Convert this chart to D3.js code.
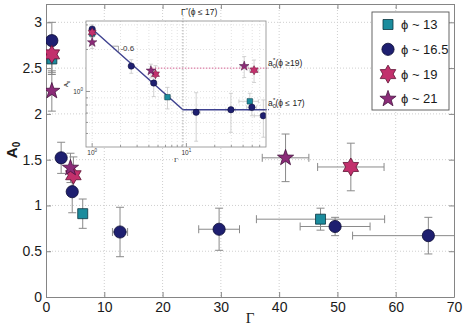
<!DOCTYPE html>
<html>
<head>
<meta charset="utf-8">
<script src="https://cdn.jsdelivr.net/npm/d3@7"></script>
<style>
  body { margin: 0; background: #fff; }
  svg { display: block; font-family: "Liberation Sans", Arial, sans-serif; }
</style>
</head>
<body>
<div id="chart"></div>
<script>
// phi ~ 13
const gamma13 = [1, 6.3, 47.1];
const amp13 = [2.6, 0.91, 0.85];
const errAmp13 = [0.17, 0.16, 0.12];
const errGamma13 = [0, 0.5, 11];
// phi ~ 16.5
const gamma165 = [1, 2.6, 4.5, 12.7, 29.7, 49.6, 65.6];
const amp165 = [2.8, 1.52, 1.15, 0.71, 0.74, 0.77, 0.67];
const errAmp165 = [0.2, 0.17, 0.23, 0.27, 0.23, 0.1, 0.2];
const errGamma165 = [0, 0, 0, 1.3, 3.5, 6, 13];
// phi ~ 19
const gamma19 = [1, 4.7, 52.3];
const amp19 = [2.65, 1.33, 1.42];
const errAmp19 = [0.2, 0.2, 0.26];
const errGamma19 = [0, 0, 5.7];
// phi ~ 21
const gamma21 = [1, 4.2, 41.1];
const amp21 = [2.25, 1.41, 1.52];
const errAmp21 = [0.22, 0.16, 0.26];
const errGamma21 = [0, 0, 4];

const seriesNames = ["ϕ ~ 13", "ϕ ~ 16.5", "ϕ ~ 19", "ϕ ~ 21"];

// inset fit: power law (slope -0.6) then plateau
const fitGamma = [1, 9.2, 70];
const fitAmp = [2.8, 0.74, 0.74];
const gammaStar = 9.2;
const ampStarHigh = 1.47;
const ampStarLow = 0.74;
const slopeLabel = "-0.6";

const xTicks = [0, 10, 20, 30, 40, 50, 60, 70];
const yTicks = [0, 0.5, 1, 1.5, 2, 2.5, 3];

const W = 463, H = 329;
const svg = d3.select("#chart").append("svg").attr("width", W).attr("height", H);

const x = d3.scaleLinear().domain([0, 70]).range([46, 454]);
const y = d3.scaleLinear().domain([0, 3.2]).range([297, 4]);

const axisColor = "#858585";

// symbol helpers
function starPath(n, rOut, rIn) {
    const pts = d3.range(2 * n).map(i => {
        const a = Math.PI * i / n - Math.PI / 2;
        const r = i % 2 ? rIn : rOut;
        return [r * Math.cos(a), r * Math.sin(a)];
    });
    return "M" + pts.map(p => p[0].toFixed(2) + "," + p[1].toFixed(2)).join("L") + "Z";
}
function shapePath(shape, s) {
    if (shape === "square") return d3.symbol(d3.symbolSquare, s * s)();
    if (shape === "circle") return d3.symbol(d3.symbolCircle, Math.PI * s * s)();
    if (shape === "hexagram") return starPath(6, s, s / Math.sqrt(3));
    return starPath(5, s, s * 0.4);
}

const series = [
    {name: seriesNames[0], g: gamma13, a: amp13, ea: errAmp13, eg: errGamma13, shape: "square", fill: "#1b8c9d", stroke: "#0b3540", big: 10, small: 5.5},
    {name: seriesNames[1], g: gamma165, a: amp165, ea: errAmp165, eg: errGamma165, shape: "circle", fill: "#1e1f70", stroke: "#0a0a33", big: 6.1, small: 3.2},
    {name: seriesNames[2], g: gamma19, a: amp19, ea: errAmp19, eg: errGamma19, shape: "hexagram", fill: "#c2306c", stroke: "#5e1233", big: 9, small: 4.6},
    {name: seriesNames[3], g: gamma21, a: amp21, ea: errAmp21, eg: errGamma21, shape: "star", fill: "#8b2b78", stroke: "#44113d", big: 8.5, small: 5}
];
series.forEach(s => {
    s.points = s.g.map((g, i) => ({g: g, a: s.a[i], ea: s.ea[i], eg: s.eg[i]}));
});

// clip paths
const defs = svg.append("defs");
defs.append("clipPath").attr("id", "mainClip").append("rect")
    .attr("x", 46).attr("y", 4).attr("width", 408).attr("height", 293);

// grid
const grid = svg.append("g").attr("stroke", "#cfcfcf").attr("stroke-dasharray", "1,2");
grid.selectAll(".gx").data(xTicks.slice(1, -1)).join("line")
    .attr("x1", d => x(d)).attr("x2", d => x(d)).attr("y1", y(3.2)).attr("y2", y(0));
grid.selectAll(".gy").data(yTicks.slice(1)).join("line")
    .attr("y1", d => y(d)).attr("y2", d => y(d)).attr("x1", x(0)).attr("x2", x(70));

// axes (matlab style: box with inward ticks)
function styleAxis(g) {
    g.select(".domain").attr("stroke", axisColor);
    g.selectAll(".tick line").attr("stroke", axisColor);
    g.selectAll("text").attr("fill", "#1a1a1a").attr("font-size", 14);
}
svg.append("g").attr("transform", `translate(0,${y(0)})`)
    .call(d3.axisBottom(x).tickValues(xTicks).tickSizeInner(-5).tickSizeOuter(0).tickPadding(5))
    .call(styleAxis);
svg.append("g").attr("transform", `translate(${x(0)},0)`)
    .call(d3.axisLeft(y).tickValues(yTicks).tickFormat(d3.format("")).tickSizeInner(-5).tickSizeOuter(0).tickPadding(4))
    .call(styleAxis);
svg.append("g").attr("transform", `translate(0,${y(3.2)})`)
    .call(d3.axisTop(x).tickValues(xTicks).tickFormat("").tickSizeInner(-5).tickSizeOuter(0))
    .call(styleAxis);
svg.append("g").attr("transform", `translate(${x(70)},0)`)
    .call(d3.axisRight(y).tickValues(yTicks).tickFormat("").tickSizeInner(-5).tickSizeOuter(0))
    .call(styleAxis);

// error bars
function drawErrors(parent, xs, ys, cap, color, width) {
    series.forEach(s => {
        const g = parent.append("g").attr("stroke", color).attr("stroke-width", width).attr("fill", "none");
        s.points.forEach(p => {
            const cx = xs(p.g), cy = ys(p.a);
            if (p.ea > 0) {
                const y1 = ys(p.a - p.ea), y2 = ys(p.a + p.ea);
                g.append("line").attr("x1", cx).attr("x2", cx).attr("y1", y1).attr("y2", y2);
                g.append("line").attr("x1", cx - cap).attr("x2", cx + cap).attr("y1", y1).attr("y2", y1);
                g.append("line").attr("x1", cx - cap).attr("x2", cx + cap).attr("y1", y2).attr("y2", y2);
            }
            if (p.eg > 0) {
                const x1 = xs(p.g - p.eg), x2 = xs(p.g + p.eg);
                g.append("line").attr("x1", x1).attr("x2", x2).attr("y1", cy).attr("y2", cy);
                g.append("line").attr("x1", x1).attr("x2", x1).attr("y1", cy - cap).attr("y2", cy + cap);
                g.append("line").attr("x1", x2).attr("x2", x2).attr("y1", cy - cap).attr("y2", cy + cap);
            }
        });
    });
}
function drawMarkers(parent, xs, ys, sizeKey, sw) {
    series.forEach(s => {
        parent.append("g").selectAll("path").data(s.points).join("path")
            .attr("d", shapePath(s.shape, s[sizeKey]))
            .attr("transform", d => `translate(${xs(d.g)},${ys(d.a)})`)
            .attr("fill", s.fill).attr("stroke", s.stroke).attr("stroke-width", sw);
    });
}

const mainLayer = svg.append("g").attr("clip-path", "url(#mainClip)");
drawErrors(mainLayer, x, y, 4, "#8a8a8a", 1);
drawMarkers(mainLayer, x, y, "big", 0.8);

// axis labels
svg.append("text")
    .attr("transform", `translate(17,150) rotate(-90)`)
    .attr("text-anchor", "middle").attr("font-size", 15).attr("font-weight", "bold").attr("fill", "#1a1a1a")
    .text("A")
    .append("tspan").attr("font-size", 10).attr("dy", 3).text("0");
svg.append("text")
    .attr("x", 250).attr("y", 323).attr("text-anchor", "middle")
    .attr("font-family", "Liberation Serif, serif").attr("font-size", 15).attr("fill", "#1a1a1a")
    .text("Γ");

// ---------------- inset (log-log) ----------------
const ix = d3.scaleLog().domain([0.86, 70]).range([86, 266]);
const iy = d3.scaleLog().domain([0.4, 3.2]).range([147, 21]);

defs.append("clipPath").attr("id", "insetClip").append("rect")
    .attr("x", 86).attr("y", 21).attr("width", 180).attr("height", 126);

const inset = svg.append("g");
inset.append("rect").attr("x", 86).attr("y", 21).attr("width", 180).attr("height", 126).attr("fill", "#fff");

const ixMinor = [1, 2, 3, 4, 5, 6, 7, 8, 9, 10, 20, 30, 40, 50, 60];
const iyMinor = [0.5, 0.6, 0.7, 0.8, 0.9, 1, 2, 3];
const igrid = inset.append("g").attr("stroke", "#e2e2e2").attr("stroke-dasharray", "1,2");
igrid.selectAll(".v").data(ixMinor).join("line")
    .attr("x1", d => ix(d)).attr("x2", d => ix(d)).attr("y1", 21).attr("y2", 147);
igrid.selectAll(".h").data(iyMinor).join("line")
    .attr("y1", d => iy(d)).attr("y2", d => iy(d)).attr("x1", 86).attr("x2", 266);

// inset ticks
const itk = inset.append("g").attr("stroke", "#999");
itk.selectAll(".tb").data(ixMinor).join("line")
    .attr("x1", d => ix(d)).attr("x2", d => ix(d)).attr("y1", 147).attr("y2", d => d === 1 || d === 10 ? 143 : 145);
itk.selectAll(".tl").data(iyMinor).join("line")
    .attr("y1", d => iy(d)).attr("y2", d => iy(d)).attr("x1", 86).attr("x2", d => d === 1 ? 90 : 88);

const insetLayer = inset.append("g").attr("clip-path", "url(#insetClip)");
drawErrors(insetLayer, ix, iy, 2, "#c8c8c8", 0.8);

// pink dotted plateau for phi >= 19
inset.append("line")
    .attr("x1", ix(4.3)).attr("x2", 269).attr("y1", iy(ampStarHigh)).attr("y2", iy(ampStarHigh))
    .attr("stroke", "#c2306c").attr("stroke-width", 0.8).attr("stroke-dasharray", "1.5,1.5");
// vertical dotted line at Gamma*
inset.append("line")
    .attr("x1", ix(gammaStar)).attr("x2", ix(gammaStar)).attr("y1", 15).attr("y2", 147)
    .attr("stroke", "#9a9a9a").attr("stroke-width", 0.8).attr("stroke-dasharray", "1.5,1.5");

// fit line
insetLayer.append("path")
    .datum(fitGamma.map((g, i) => [g, fitAmp[i]]))
    .attr("d", d3.line().x(d => ix(d[0])).y(d => iy(d[1])))
    .attr("fill", "none").attr("stroke", "#3f4290").attr("stroke-width", 1.4);
inset.append("line")
    .attr("x1", 266).attr("x2", 269).attr("y1", iy(ampStarLow)).attr("y2", iy(ampStarLow))
    .attr("stroke", "#3f4290").attr("stroke-dasharray", "1,1");

// slope triangle
const sg0 = 1.6, sg1 = 1.9;
const fitAt = g => fitAmp[0] * Math.pow(g, -0.6);
inset.append("path")
    .attr("d", `M${ix(sg0)},${iy(fitAt(sg0))}H${ix(sg1)}V${iy(fitAt(sg1))}`)
    .attr("fill", "none").attr("stroke", "#666").attr("stroke-width", 0.6);
inset.append("text").attr("x", ix(sg1) + 2).attr("y", iy(fitAt(sg0)) + 5)
    .attr("font-size", 8).attr("fill", "#333").text(slopeLabel);

drawMarkers(insetLayer, ix, iy, "small", 0.5);

inset.append("rect").attr("x", 86).attr("y", 21).attr("width", 180).attr("height", 126)
    .attr("fill", "none").attr("stroke", "#8a8a8a").attr("stroke-width", 0.8);

// inset tick labels
const itl = inset.append("g").attr("fill", "#333").attr("font-size", 6.5);
[1, 10].forEach((d, i) => {
    const t = itl.append("text").attr("x", ix(d)).attr("y", 155).attr("text-anchor", "middle").text("10");
    t.append("tspan").attr("dy", -3).attr("font-size", 4.5).text(String(i));
});
const ty = itl.append("text").attr("x", 83).attr("y", iy(1) + 3).attr("text-anchor", "end").text("10");
ty.append("tspan").attr("dy", -3).attr("font-size", 4.5).text("0");
inset.append("text").attr("x", 176).attr("y", 162).attr("text-anchor", "middle")
    .attr("font-family", "Liberation Serif, serif").attr("font-size", 7).attr("fill", "#333").text("Γ");
inset.append("text").attr("transform", "translate(68,84) rotate(-90)").attr("text-anchor", "middle")
    .attr("font-size", 6).attr("font-weight", "bold").attr("fill", "#333").text("A")
    .append("tspan").attr("dy", 1.5).attr("font-size", 4).text("0");

// inset annotations
const ann = inset.append("g").attr("fill", "#222").attr("font-size", 8.5);
const gl = ann.append("text").attr("x", ix(gammaStar) - 2).attr("y", 15);
gl.append("tspan").text("Γ");
gl.append("tspan").attr("dy", -3).attr("font-size", 6).text("*");
gl.append("tspan").attr("dy", 3).text("(ϕ ≤ 17)");

function aLabel(yPos, txt) {
    const t = ann.append("text").attr("x", 268).attr("y", yPos);
    t.append("tspan").text("a");
    t.append("tspan").attr("dy", 2).attr("font-size", 6).text("0");
    t.append("tspan").attr("dx", -3).attr("dy", -6).attr("font-size", 6).text("*");
    t.append("tspan").attr("dy", 4).text(txt);
}
aLabel(iy(ampStarHigh) - 2, "(ϕ ≥19)");
aLabel(iy(ampStarLow) - 4, "(ϕ ≤ 17)");

// ---------------- legend ----------------
const leg = svg.append("g");
leg.append("rect").attr("x", 372).attr("y", 12).attr("width", 77).attr("height", 98)
    .attr("fill", "#fff").attr("stroke", "#555").attr("stroke-width", 0.9);
series.forEach((s, i) => {
    const cy = 24.5 + i * 24.8;
    leg.append("path").attr("d", shapePath(s.shape, s.big))
        .attr("transform", `translate(388,${cy})`)
        .attr("fill", s.fill).attr("stroke", s.stroke).attr("stroke-width", 0.8);
    leg.append("text").attr("x", 401).attr("y", cy).attr("dy", "0.35em")
        .attr("font-size", 13).attr("fill", "#1a1a1a").text(s.name);
});
</script>
</body>
</html>
